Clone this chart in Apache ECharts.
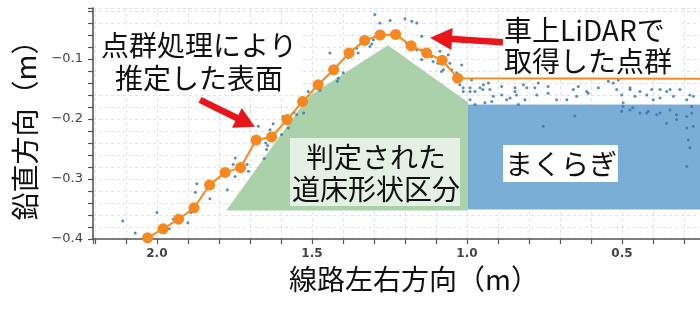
<!DOCTYPE html>
<html><head><meta charset="utf-8">
<script src="https://cdn.jsdelivr.net/npm/echarts@6/dist/echarts.min.js"></script>
<style>html,body{margin:0;padding:0;background:#fff}#c{width:700px;height:314px}</style>
</head><body><div id="c"></div>
<script>
// Estimated surface (orange line) – first and last points are line-only (no marker)
const surfaceX = [2.08, 2.03, 1.98, 1.93, 1.88, 1.83, 1.78, 1.73, 1.68, 1.63, 1.58, 1.53, 1.48, 1.43, 1.38, 1.33, 1.28, 1.23, 1.18, 1.13, 1.08, 1.03, 0.2];
const surfaceY = [-0.413, -0.398, -0.383, -0.367, -0.348, -0.310, -0.289, -0.281, -0.235, -0.230, -0.201, -0.171, -0.143, -0.118, -0.090, -0.069, -0.060, -0.059, -0.078, -0.090, -0.102, -0.132, -0.133];
const surfaceNoMarker = [0, 22];

// LiDAR point cloud
const lidarX = [2.11,2.07,2.00,1.96,1.947,1.90,1.89,1.876,1.871,1.829,1.773,1.754,1.747,1.705,1.709,1.654,1.646,1.643,1.673,1.649,1.748,1.625,1.635,1.576,1.593,1.576,1.558,1.549,1.527,1.598,1.512,1.474,1.442,1.418,1.415,1.399,1.383,1.356,1.351,1.313,1.302,1.307,1.297,1.281,1.20,1.178,1.162,1.248,1.146,1.146,1.162,1.119,1.109,1.06,1.076,1.055,1.017,1.012,1.023,1.195,1.146,1.114,1.087,1.093,1.049,1.082,1.033,1.012,0.99,0.985,0.958,0.947,0.926,0.915,0.92,0.888,0.888,0.872,0.845,0.84,0.834,0.974,0.942,0.99,0.99,0.974,0.949,0.931,0.861,0.845,0.818,0.807,0.813,0.77,0.781,0.775,0.738,0.738,0.711,0.678,0.657,0.646,0.614,0.576,0.544,0.528,0.512,0.517,0.501,0.496,0.474,0.458,0.42,0.404,0.399,0.377,0.356,0.334,0.313,0.291,0.27,0.275,0.497,0.465,0.42,0.388,0.356,0.324,0.291,0.275,0.27,0.754,0.652,0.641,0.609,0.474,0.442,0.377,0.345,0.281,0.501,0.474,0.442,0.415,0.377,0.345,0.324,0.291,0.286,0.281,0.291];
const lidarY = [-0.37,-0.39,-0.356,-0.383,-0.367,-0.373,-0.356,-0.322,-0.308,-0.333,-0.318,-0.276,-0.265,-0.287,-0.276,-0.266,-0.251,-0.244,-0.212,-0.24,-0.296,-0.208,-0.218,-0.201,-0.196,-0.215,-0.189,-0.193,-0.19,-0.226,-0.154,-0.152,-0.09,-0.137,-0.132,-0.123,-0.098,-0.082,-0.09,-0.079,-0.068,-0.075,-0.026,-0.04,-0.033,-0.037,-0.04,-0.036,-0.062,-0.085,-0.085,-0.09,-0.104,-0.093,-0.118,-0.107,-0.11,-0.148,-0.143,-0.073,-0.101,-0.096,-0.087,-0.107,-0.118,-0.121,-0.123,-0.154,-0.154,-0.135,-0.148,-0.143,-0.151,-0.162,-0.171,-0.146,-0.16,-0.168,-0.148,-0.16,-0.176,-0.176,-0.173,-0.168,-0.148,-0.154,-0.151,-0.14,-0.165,-0.154,-0.143,-0.148,-0.168,-0.14,-0.148,-0.16,-0.146,-0.157,-0.168,-0.168,-0.151,-0.162,-0.154,-0.148,-0.137,-0.14,-0.135,-0.151,-0.16,-0.173,-0.151,-0.162,-0.16,-0.151,-0.168,-0.165,-0.154,-0.162,-0.151,-0.168,-0.162,-0.179,-0.179,-0.181,-0.19,-0.193,-0.207,-0.193,-0.196,-0.19,-0.212,-0.212,-0.195,-0.146,-0.157,-0.148,-0.154,-0.151,-0.151,-0.16,-0.187,-0.185,-0.19,-0.187,-0.19,-0.185,-0.201,-0.215,-0.235,-0.248,-0.279];

// Judged ballast shape (green polygon) and sleeper (blue rectangle)
const ballastX = [1.77, 1.51, 1.255, 1.0, 1.0];
const ballastY = [-0.351, -0.164, -0.079, -0.173, -0.351];
const sleeperX = [1.0, 1.0, 0.2, 0.2];
const sleeperY = [-0.351, -0.176, -0.176, -0.351];

// Arrows (tail, tip) in data coordinates
const arrow1 = [[1.861, -0.168], [1.684, -0.213]];
const arrow2 = [[0.884, -0.072], [1.119, -0.0645]];

// Tick labels
const xLabelValues = [2.0, 1.5, 1.0, 0.5];
const yLabelValues = [-0.1, -0.2, -0.3, -0.4];

const chart = echarts.init(document.getElementById('c'), null, {renderer: 'canvas'});

const near = (v, arr) => arr.some(a => Math.abs(a - v) < 1e-6);

const surfaceData = surfaceX.map((x, i) => surfaceNoMarker.includes(i) ? {value: [x, surfaceY[i]], symbol: 'none'} : [x, surfaceY[i]]);
const lidarData = lidarX.map((x, i) => [x, lidarY[i]]);

const cjk = '"Noto Sans CJK JP", "Noto Sans CJK SC", sans-serif';

chart.setOption({
  animation: false,
  backgroundColor: '#fff',
  grid: {left: 93, right: -15, top: 8, bottom: 75, containLabel: false, outerBoundsMode: 'none'},
  xAxis: {
    type: 'value', inverse: true, min: 0.2, max: 2.206, interval: 0.1,
    axisLine: {show: true, onZero: false, lineStyle: {color: '#555', width: 1.6}},
    axisTick: {show: true, length: 5, lineStyle: {color: '#555', width: 1.2}},
    axisLabel: {
      formatter: v => near(v, xLabelValues) ? v.toFixed(1) : '',
      color: '#444', fontSize: 12, fontWeight: 'bold', fontFamily: 'DejaVu Sans', margin: 9
    },
    splitLine: {show: true, lineStyle: {color: '#e2e2e2', type: [3, 3], width: 1}},
    name: '線路左右方向（m）', nameLocation: 'middle', nameGap: 24,
    nameTextStyle: {fontSize: 28, fontFamily: cjk, color: '#111', padding: [0, 0, 0, 20]}
  },
  yAxis: {
    type: 'value', min: -0.4, max: -0.015, interval: 0.02,
    axisLine: {show: true, onZero: false, lineStyle: {color: '#555', width: 1.6}},
    axisTick: {show: true, length: 5, lineStyle: {color: '#555', width: 1.2}},
    axisLabel: {
      formatter: v => near(v, yLabelValues) ? '\u2212' + Math.abs(v).toFixed(1) : '',
      color: '#444', fontSize: 13, fontFamily: 'DejaVu Sans', margin: 10
    },
    splitLine: {show: true, lineStyle: {color: '#e2e2e2', type: [3, 3], width: 1}},
    name: '鉛直方向（m）', nameLocation: 'middle', nameGap: 54,
    nameTextStyle: {fontSize: 28, fontFamily: cjk, color: '#111'}
  },
  series: [
    {
      type: 'custom', z: 1, silent: true, data: [[1, -0.3]],
      renderItem: (params, api) => ({
        type: 'polygon',
        shape: {points: sleeperX.map((x, i) => api.coord([x, sleeperY[i]]))},
        style: {fill: '#7aaed6'}
      })
    },
    {
      type: 'custom', z: 2, silent: true, data: [[1.3, -0.3]],
      renderItem: (params, api) => ({
        type: 'polygon',
        shape: {points: ballastX.map((x, i) => api.coord([x, ballastY[i]]))},
        style: {fill: '#abd1ab', stroke: '#abd1ab', lineWidth: 2}
      })
    },
    {
      type: 'scatter', z: 3, silent: true, data: lidarData,
      symbolSize: 3, itemStyle: {color: '#3b77b3', opacity: 0.85}
    },
    {
      type: 'line', z: 4, silent: true, data: surfaceData,
      symbol: 'circle', symbolSize: 11, showAllSymbol: true,
      lineStyle: {color: '#f5891f', width: 2},
      itemStyle: {color: '#f5891f', borderWidth: 0}
    }
  ]
});

function arrowPoly(a, shaft, headLen, headW) {
  const p0 = chart.convertToPixel({gridIndex: 0}, a[0]);
  const p1 = chart.convertToPixel({gridIndex: 0}, a[1]);
  const dx = p1[0] - p0[0], dy = p1[1] - p0[1], L = Math.hypot(dx, dy);
  const ux = dx / L, uy = dy / L, nx = -uy, ny = ux;
  const bx = p1[0] - ux * headLen, by = p1[1] - uy * headLen;
  const pts = [
    [p0[0] + nx * shaft / 2, p0[1] + ny * shaft / 2],
    [bx + nx * shaft / 2, by + ny * shaft / 2],
    [bx + nx * headW / 2, by + ny * headW / 2],
    [p1[0], p1[1]],
    [bx - nx * headW / 2, by - ny * headW / 2],
    [bx - nx * shaft / 2, by - ny * shaft / 2],
    [p0[0] - nx * shaft / 2, p0[1] - ny * shaft / 2]
  ];
  return {type: 'polygon', shape: {points: pts}, style: {fill: '#e8161b'}, z: 50, silent: true};
}

function label(text, x, y, align, lh) {
  return {type: 'text', x: x, y: y, z: 60, silent: true,
    style: {text: text, font: '28px ' + cjk, fill: '#111', align: align, textAlign: align,
            verticalAlign: 'middle', textVerticalAlign: 'middle', lineHeight: lh}};
}

chart.setOption({
  graphic: [
    {type: 'rect', shape: {x: 98, y: 27, width: 204, height: 68}, style: {fill: '#fff'}, z: 40, silent: true},
    label('点群処理により\n推定した表面', 199, 61.5, 'center', 33),
    {type: 'rect', shape: {x: 500, y: 13, width: 182, height: 63}, style: {fill: '#fff'}, z: 40, silent: true},
    label('車上LiDARで\n取得した点群', 504, 45.5, 'left', 31),
    {type: 'rect', shape: {x: 290, y: 138, width: 170, height: 68}, style: {fill: '#e4f0e4'}, z: 40, silent: true},
    label('判定された\n道床形状区分', 376, 173, 'center', 32),
    {type: 'rect', shape: {x: 503, y: 145, width: 115, height: 37}, style: {fill: '#fff'}, z: 40, silent: true},
    label('まくらぎ', 561, 164, 'center', 32),
    arrowPoly(arrow1, 6.5, 20, 22),
    arrowPoly(arrow2, 6.5, 22, 22)
  ]
});
</script></body></html>
